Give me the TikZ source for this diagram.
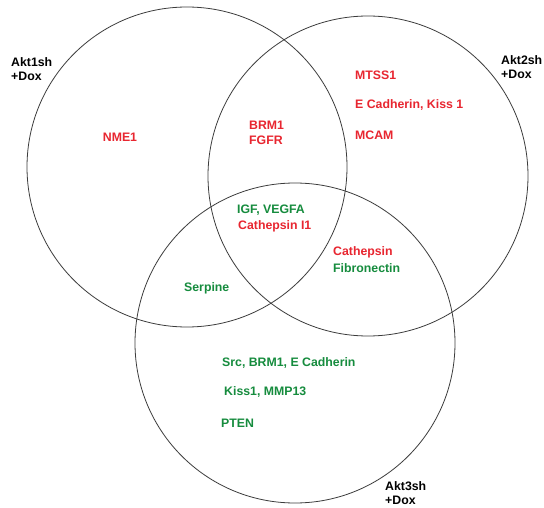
\documentclass[tikz,border=0pt]{standalone}
\usepackage{fontspec}
\setmainfont{Liberation Sans}
\definecolor{vred}{RGB}{232,38,48}
\definecolor{vgreen}{RGB}{22,140,62}
\definecolor{vline}{RGB}{60,60,60}
\begin{document}
\begin{tikzpicture}[x=1pt,y=-1pt,
  setc/.style={draw=vline,line width=0.8pt},
  lbl/.style={font=\fontsize{12.3}{14}\selectfont\bfseries,inner sep=0pt,anchor=west},
  rtxt/.style={lbl,text=vred},
  gtxt/.style={lbl,text=vgreen},
  ktxt/.style={lbl,text=black,align=left}]
\useasboundingbox[fill=white] (0,0) rectangle (544,508);
\node[setc,circle,minimum size=320pt,inner sep=0pt] (c1) at (187,167) {};
\node[setc,circle,minimum size=320pt,inner sep=0pt] (c2) at (368,176) {};
\node[setc,circle,minimum size=320pt,inner sep=0pt] (c3) at (295,343) {};
\node[ktxt,anchor=north west] (l1) at (11,57) {Akt1sh\\+Dox};
\node[ktxt,anchor=north west] (l2) at (501,55) {Akt2sh\\+Dox};
\node[ktxt,anchor=north west] (l3) at (385,481) {Akt3sh\\+Dox};
\node[rtxt,anchor=center] (nme) at (120,137) {NME1};
\node[rtxt] (brm) at (249,125) {BRM1};
\node[rtxt] (fgfr) at (249,140) {FGFR};
\node[rtxt] (mtss) at (355,75) {MTSS1};
\node[rtxt] (ecad) at (355,105) {E Cadherin, Kiss 1};
\node[rtxt] (mcam) at (355,135) {MCAM};
\node[gtxt] (igf) at (237,210) {IGF, VEGFA};
\node[rtxt] (cat1) at (238,226) {Cathepsin I1};
\node[rtxt] (cat) at (333,252) {Cathepsin};
\node[gtxt] (fib) at (333,268) {Fibronectin};
\node[gtxt] (serp) at (184,288) {Serpine};
\node[gtxt] (src) at (222,363) {Src, BRM1, E Cadherin};
\node[gtxt] (kiss) at (224,392) {Kiss1, MMP13};
\node[gtxt] (pten) at (221,423) {PTEN};
\end{tikzpicture}
\end{document}
